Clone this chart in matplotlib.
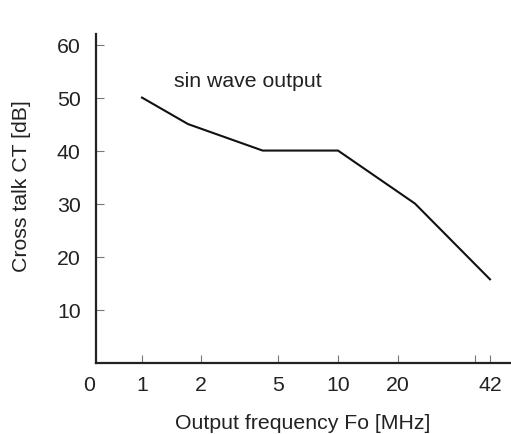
import numpy as np
import matplotlib.pyplot as plt

plt.rcParams['font.family'] = ['Liberation Sans', 'DejaVu Sans']

# data
freq = [1, 1.78, 4.4, 10, 24.4, 42]
crosstalk = [50, 45, 40, 40, 30, 15.7]
x_ticks = [1, 2, 5, 10, 20, 40, 42]
x_ticklabels = ['1', '2', '5', '10', '20', '', '42']
y_ticks = [10, 20, 30, 40, 50, 60]

# the printed axis is roughly log but stretched near the end -> piecewise scale
anchor_val = np.array([0, 1, 2, 5, 10, 20, 40, 42, 50])
anchor_pos = np.array([96, 142, 201, 278, 338, 398, 475, 490, 520], dtype=float)


def fwd(x):
    return np.interp(x, anchor_val, anchor_pos)


def inv(p):
    return np.interp(p, anchor_pos, anchor_val)


fs = 15.3
txt_col = '#222222'

fig = plt.figure(figsize=(5.11, 4.35), dpi=100)
ax = fig.add_axes([96 / 511, 71.5 / 435, 414 / 511, 328.5 / 435])
ax.set_xscale('function', functions=(fwd, inv))

ax.plot(freq, crosstalk, color='#111111', lw=1.5, solid_joinstyle='miter')

ax.set_xlim(0, inv(510))
ax.set_ylim(0, 62)

ax.set_xticks(x_ticks)
ax.set_xticklabels(x_ticklabels)
ax.xaxis.set_minor_locator(plt.NullLocator())
ax.set_yticks(y_ticks)

for s in ['top', 'right']:
    ax.spines[s].set_visible(False)
for s in ['left', 'bottom']:
    ax.spines[s].set_linewidth(1.6)
    ax.spines[s].set_color('#222222')

ax.tick_params(axis='both', direction='in', length=6, width=0.8,
               color='#777777', labelsize=fs, labelcolor=txt_col)
ax.tick_params(axis='y', pad=11)
ax.tick_params(axis='x', pad=9)

# "0" label at the origin, left of the y axis
ax.text(-0.0025, -0.038, '0', transform=ax.transAxes, ha='right', va='top',
        fontsize=fs, color=txt_col)

ax.text(1.54, 53.2, 'sin wave output', ha='left', va='center',
        fontsize=fs, color=txt_col)

ax.set_xlabel('Output frequency Fo [MHz]', fontsize=fs, color=txt_col, labelpad=14)
ax.set_ylabel('Cross talk CT [dB]', fontsize=fs, color=txt_col, labelpad=19)
ax.yaxis.label.set_y(0.54)

fig.savefig('out.png', dpi=100)
